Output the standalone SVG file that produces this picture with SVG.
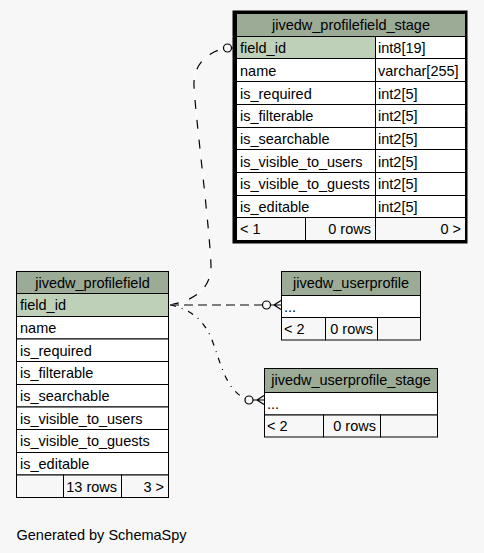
<svg xmlns="http://www.w3.org/2000/svg" width="484" height="553" viewBox="0 0 484 553">
<style>
text{font-family:"Liberation Sans",Arial,sans-serif;font-size:14.5px;fill:#000}
.hdr{fill:#9bab96;stroke:#000;stroke-width:1}
.key{fill:#bed1b8;stroke:#000;stroke-width:1}
.cell{fill:#fff;stroke:#000;stroke-width:1}
.foot{fill:#f7f7f7;stroke:#000;stroke-width:1}
.mid{text-anchor:middle}
.end{text-anchor:end}
.wl{fill:none;stroke:#fff;stroke-width:1.2}
.bl{fill:none;stroke:#000;stroke-width:1.2}
.ring{fill:none;stroke:#000;stroke-width:1.2}
</style>
<rect x="0" y="0" width="484" height="553" fill="#f7f7f7"/>

<g id="connectors">
  <path class="wl" d="M170,305 C190,301 211,292 211,266 C210,230 195,112 194,86 C193,66 206,53 223.5,48.5"/>
  <path class="bl" stroke-dasharray="9,11" d="M170,305 C190,301 211,292 211,266 C210,230 195,112 194,86 C193,66 206,53 223.5,48.5"/>
  <circle class="ring" cx="227.5" cy="48" r="4"/>
  <line class="bl" x1="231.5" y1="48" x2="236.5" y2="48"/>

  <path class="wl" d="M170,305 L262.5,305"/>
  <path class="bl" stroke-dasharray="9,5" d="M170,305 L262.5,305"/>
  <circle class="ring" cx="266.5" cy="305" r="4"/>
  <path class="bl" d="M270.5,305 L281,305 M274,305 L281,300.5 M274,305 L281,309.5"/>

  <path class="wl" d="M170,305 C192,309 205,322 212,340 C218,356 222,372 230,385 C236,393 240,396 245.2,398.8"/>
  <path class="bl" stroke-dasharray="6,6,1,6" d="M170,305 C192,309 205,322 212,340 C218,356 222,372 230,385 C236,393 240,396 245.2,398.8"/>
  <circle class="ring" cx="249" cy="400" r="4"/>
  <path class="bl" d="M253,400 L264,400 M257,400 L264,395.5 M257,400 L264,404.5"/>
</g>

<g id="jivedw_profilefield_stage">
  <rect x="232.5" y="10.5" width="235" height="233" fill="#000"/>
  <rect class="hdr" x="236.5" y="13.5" width="229" height="23"/>
  <text class="mid" x="351" y="30">jivedw_profilefield_stage</text>
  <rect class="key" x="236.5" y="36.5" width="139" height="22"/>
  <rect class="cell" x="375.5" y="36.5" width="90" height="22"/>
  <text x="240" y="53">field_id</text><text x="378" y="53">int8[19]</text>
  <rect class="cell" x="236.5" y="58.5" width="139" height="23"/>
  <rect class="cell" x="375.5" y="58.5" width="90" height="23"/>
  <text x="240" y="76">name</text><text x="378" y="76">varchar[255]</text>
  <rect class="cell" x="236.5" y="81.5" width="139" height="23"/>
  <rect class="cell" x="375.5" y="81.5" width="90" height="23"/>
  <text x="240" y="98.5">is_required</text><text x="378" y="98.5">int2[5]</text>
  <rect class="cell" x="236.5" y="104.5" width="139" height="23"/>
  <rect class="cell" x="375.5" y="104.5" width="90" height="23"/>
  <text x="240" y="121">is_filterable</text><text x="378" y="121">int2[5]</text>
  <rect class="cell" x="236.5" y="127.5" width="139" height="22"/>
  <rect class="cell" x="375.5" y="127.5" width="90" height="22"/>
  <text x="240" y="144">is_searchable</text><text x="378" y="144">int2[5]</text>
  <rect class="cell" x="236.5" y="149.5" width="139" height="23"/>
  <rect class="cell" x="375.5" y="149.5" width="90" height="23"/>
  <text x="240" y="166.5">is_visible_to_users</text><text x="378" y="166.5">int2[5]</text>
  <rect class="cell" x="236.5" y="172.5" width="139" height="23"/>
  <rect class="cell" x="375.5" y="172.5" width="90" height="23"/>
  <text x="240" y="189">is_visible_to_guests</text><text x="378" y="189">int2[5]</text>
  <rect class="cell" x="236.5" y="195.5" width="139" height="22"/>
  <rect class="cell" x="375.5" y="195.5" width="90" height="22"/>
  <text x="240" y="212">is_editable</text><text x="378" y="212">int2[5]</text>
  <rect class="foot" x="236.5" y="217.5" width="69" height="23"/>
  <rect class="foot" x="305.5" y="217.5" width="70" height="23"/>
  <rect class="foot" x="375.5" y="217.5" width="90" height="23"/>
  <text x="240" y="234">&lt; 1</text>
  <text class="end" x="371" y="234">0 rows</text>
  <text class="end" x="461" y="234">0 &gt;</text>
</g>

<g id="jivedw_profilefield">
  <rect class="hdr" x="16.5" y="271.5" width="152" height="22"/>
  <text class="mid" x="92.5" y="288">jivedw_profilefield</text>
  <rect class="key" x="16.5" y="293.5" width="152" height="23"/>
  <text x="20" y="310">field_id</text>
  <rect class="cell" x="16.5" y="316.5" width="152" height="22.5"/>
  <text x="20" y="332.5">name</text>
  <rect class="cell" x="16.5" y="339" width="152" height="22.5"/>
  <text x="20" y="355.5">is_required</text>
  <rect class="cell" x="16.5" y="361.5" width="152" height="23"/>
  <text x="20" y="378">is_filterable</text>
  <rect class="cell" x="16.5" y="384.5" width="152" height="22.5"/>
  <text x="20" y="401">is_searchable</text>
  <rect class="cell" x="16.5" y="407" width="152" height="22.5"/>
  <text x="20" y="423.5">is_visible_to_users</text>
  <rect class="cell" x="16.5" y="429.5" width="152" height="23"/>
  <text x="20" y="446">is_visible_to_guests</text>
  <rect class="cell" x="16.5" y="452.5" width="152" height="22.5"/>
  <text x="20" y="469">is_editable</text>
  <rect class="foot" x="16.5" y="475" width="47" height="22.5"/>
  <rect class="foot" x="63.5" y="475" width="58" height="22.5"/>
  <rect class="foot" x="121.5" y="475" width="47" height="22.5"/>
  <text class="end" x="117" y="491.5">13 rows</text>
  <text class="end" x="164" y="491.5">3 &gt;</text>
</g>

<g id="jivedw_userprofile">
  <rect class="hdr" x="281.5" y="271.5" width="139" height="24"/>
  <text class="mid" x="351" y="288">jivedw_userprofile</text>
  <rect class="cell" x="281.5" y="295.5" width="139" height="22"/>
  <text x="284" y="312">...</text>
  <rect class="foot" x="281.5" y="317.5" width="44" height="22.5"/>
  <rect class="foot" x="325.5" y="317.5" width="52" height="22.5"/>
  <rect class="foot" x="377.5" y="317.5" width="43" height="22.5"/>
  <text x="284" y="334">&lt; 2</text>
  <text class="end" x="373" y="334">0 rows</text>
</g>

<g id="jivedw_userprofile_stage">
  <rect class="hdr" x="264.5" y="368.5" width="173" height="24"/>
  <text class="mid" x="351" y="385">jivedw_userprofile_stage</text>
  <rect class="cell" x="264.5" y="392.5" width="173" height="22.5"/>
  <text x="267" y="409">...</text>
  <rect class="foot" x="264.5" y="415" width="59" height="22"/>
  <rect class="foot" x="323.5" y="415" width="57" height="22"/>
  <rect class="foot" x="380.5" y="415" width="57" height="22"/>
  <text x="267" y="431">&lt; 2</text>
  <text class="end" x="376" y="431">0 rows</text>
</g>

<text x="16.5" y="540">Generated by SchemaSpy</text>
</svg>
